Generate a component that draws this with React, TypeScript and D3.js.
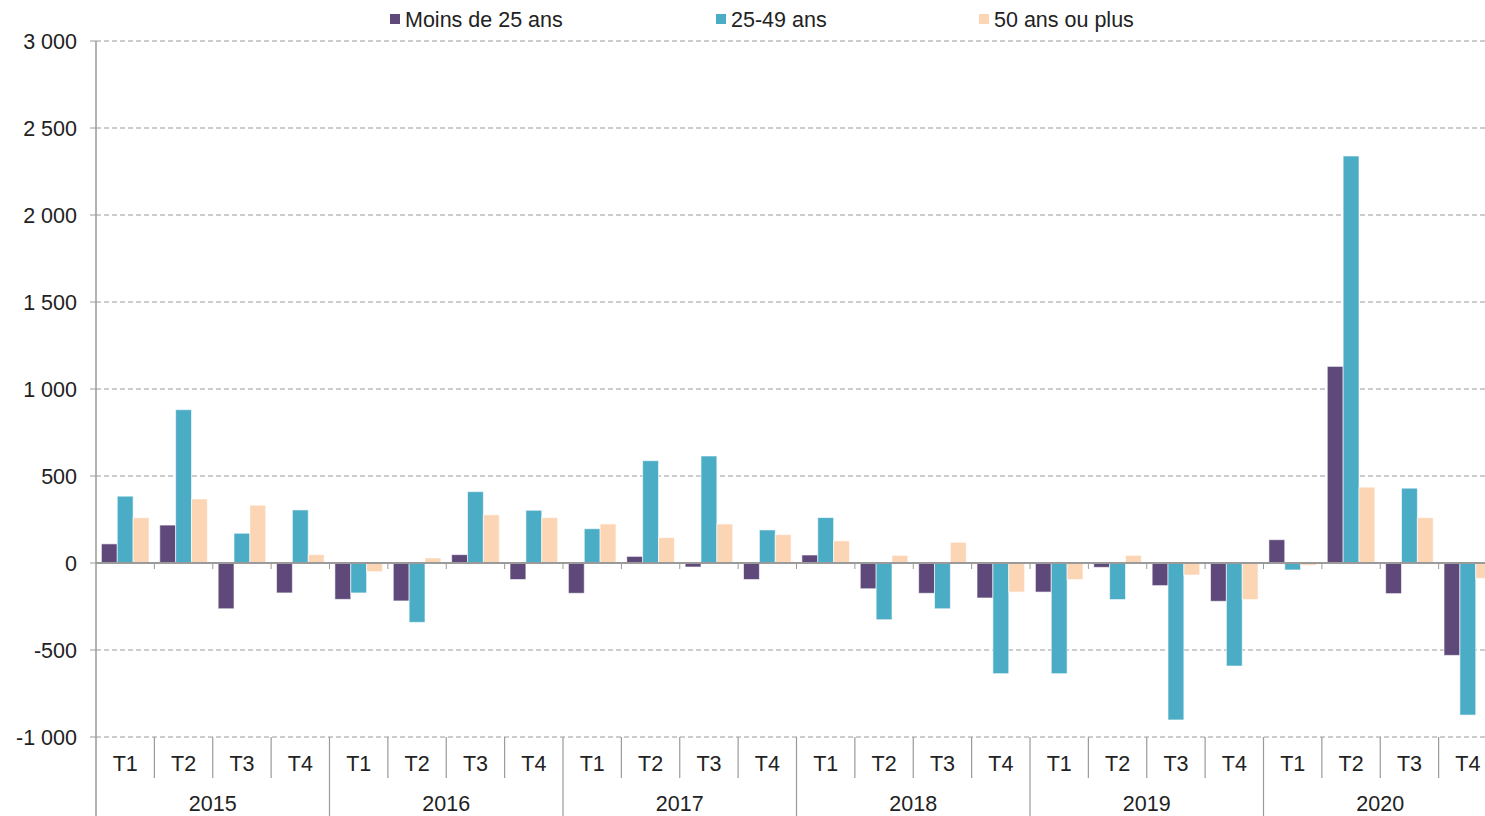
import { useEffect, useRef } from "react"
import * as d3 from "d3"

const years = ["2015", "2016", "2017", "2018", "2019", "2020"]
const quarters = ["T1", "T2", "T3", "T4"]
const seriesNames = ["Moins de 25 ans", "25-49 ans", "50 ans ou plus"]
const seriesColors = ["#5f497a", "#4bacc6", "#fcd5b5"]

// one value per quarter, 2015 T1 -> 2020 T4
const moins25 = [
  110, 218, -263, -172, -209, -218, 48, -95, -174, 38, -23, -95,
  46, -148, -174, -201, -167, -25, -130, -220, 134, 1130, -176, -531,
]
const age2549 = [
  384, 881, 171, 305, -172, -341, 410, 303, 197, 588, 615, 190,
  261, -326, -263, -636, -636, -210, -902, -592, -40, 2339, 430, -874,
]
const plus50 = [
  260, 368, 332, 48, -50, 29, 277, 261, 224, 146, 224, 163,
  127, 44, 119, -167, -95, 44, -69, -210, -13, 436, 260, -88,
]
const yTicks = [-1000, -500, 0, 500, 1000, 1500, 2000, 2500, 3000]

export default function App() {
  const svgRef = useRef<SVGSVGElement>(null)

  useEffect(() => {
    if (!svgRef.current) return
    const W = 1485
    const H = 816
    const left = 96
    const right = 1497

    const svg = d3.select(svgRef.current)
    svg.selectAll("*").remove()
    svg.attr("width", W).attr("height", H)

    const font = "'Liberation Sans', Arial, sans-serif"
    const fs = "21.5px"
    const labels = years.flatMap((yr) => quarters.map((q) => `${yr}-${q}`))
    const values = [moins25, age2549, plus50]

    const x0 = d3.scaleBand<string>().domain(labels).range([left, right]).padding(0)
    const x1 = d3
      .scaleBand<number>()
      .domain([0, 1, 2])
      .range([0, x0.bandwidth()])
      .paddingInner(0)
      .paddingOuter(0.34)
    const y = d3.scaleLinear().domain([-1000, 3000]).range([737, 41])
    const fmt = (d: number) => d3.format(",")(d).replace(/,/g, " ").replace("\u2212", "-")

    // grid lines
    svg
      .append("g")
      .selectAll("line")
      .data(yTicks.filter((t) => t !== 0))
      .enter()
      .append("line")
      .attr("x1", left)
      .attr("x2", W)
      .attr("y1", (d) => y(d))
      .attr("y2", (d) => y(d))
      .attr("stroke", "#9a9a9a")
      .attr("stroke-width", 1)
      .attr("stroke-dasharray", "5,3")

    // y tick marks + labels
    const yAxis = svg.append("g")
    yAxis
      .selectAll("line")
      .data(yTicks)
      .enter()
      .append("line")
      .attr("x1", left - 6)
      .attr("x2", left)
      .attr("y1", (d) => y(d))
      .attr("y2", (d) => y(d))
      .attr("stroke", "#9a9a9a")
    yAxis
      .selectAll("text")
      .data(yTicks)
      .enter()
      .append("text")
      .attr("x", 77)
      .attr("y", (d) => y(d))
      .attr("dy", "0.36em")
      .attr("text-anchor", "end")
      .style("font-family", font)
      .style("font-size", fs)
      .style("fill", "#222")
      .text((d) => fmt(d))

    // bars
    values.forEach((vals, si) => {
      svg
        .append("g")
        .selectAll("rect")
        .data(vals)
        .enter()
        .append("rect")
        .attr("x", (_, i) => (x0(labels[i]) || 0) + (x1(si) || 0))
        .attr("y", (d) => y(Math.max(0, d)))
        .attr("width", x1.bandwidth())
        .attr("height", (d) => Math.abs(y(d) - y(0)))
        .style("fill", seriesColors[si])
        .style("stroke", "rgba(255,255,255,0.6)")
        .style("stroke-width", 1)
    })

    // zero line with small ticks
    svg
      .append("line")
      .attr("x1", left)
      .attr("x2", W)
      .attr("y1", y(0))
      .attr("y2", y(0))
      .attr("stroke", "#9a9a9a")
      .attr("stroke-width", 2)
    svg
      .append("g")
      .selectAll("line")
      .data(labels.slice(1))
      .enter()
      .append("line")
      .attr("x1", (d) => x0(d) || 0)
      .attr("x2", (d) => x0(d) || 0)
      .attr("y1", y(0))
      .attr("y2", y(0) + 6)
      .attr("stroke", "#9a9a9a")

    // vertical axis line
    svg
      .append("line")
      .attr("x1", left)
      .attr("x2", left)
      .attr("y1", y(3000))
      .attr("y2", H)
      .attr("stroke", "#9a9a9a")
      .attr("stroke-width", 1.5)

    // category separators and labels
    const cat = svg.append("g")
    cat
      .selectAll("line")
      .data(labels.slice(1))
      .enter()
      .append("line")
      .attr("x1", (d) => x0(d) || 0)
      .attr("x2", (d) => x0(d) || 0)
      .attr("y1", y(-1000))
      .attr("y2", (d) => (d.endsWith("T1") ? H : 778))
      .attr("stroke", "#9a9a9a")
      .attr("stroke-width", 1.2)
    cat
      .selectAll("text.q")
      .data(labels)
      .enter()
      .append("text")
      .attr("class", "q")
      .attr("x", (d) => (x0(d) || 0) + x0.bandwidth() / 2)
      .attr("y", 771)
      .attr("text-anchor", "middle")
      .style("font-family", font)
      .style("font-size", fs)
      .style("fill", "#222")
      .text((d) => d.split("-")[1])
    cat
      .selectAll("text.yr")
      .data(years)
      .enter()
      .append("text")
      .attr("class", "yr")
      .attr("x", (d) => (x0(`${d}-T1`) || 0) + (x0.bandwidth() * 4) / 2)
      .attr("y", 811)
      .attr("text-anchor", "middle")
      .style("font-family", font)
      .style("font-size", fs)
      .style("fill", "#222")
      .text((d) => d)

    // legend
    const legendX = [390, 716, 979]
    const legend = svg.append("g")
    seriesNames.forEach((name, i) => {
      legend
        .append("rect")
        .attr("x", legendX[i])
        .attr("y", 14)
        .attr("width", 10)
        .attr("height", 10)
        .style("fill", seriesColors[i])
      legend
        .append("text")
        .attr("x", legendX[i] + 15)
        .attr("y", 27)
        .style("font-family", font)
        .style("font-size", fs)
        .style("fill", "#222")
        .text(name)
    })
  }, [])

  return (
    <div style={{ position: "absolute", left: 0, top: 0, width: 1485, height: 816, overflow: "hidden", background: "#fff" }}>
      <svg ref={svgRef}></svg>
    </div>
  )
}
